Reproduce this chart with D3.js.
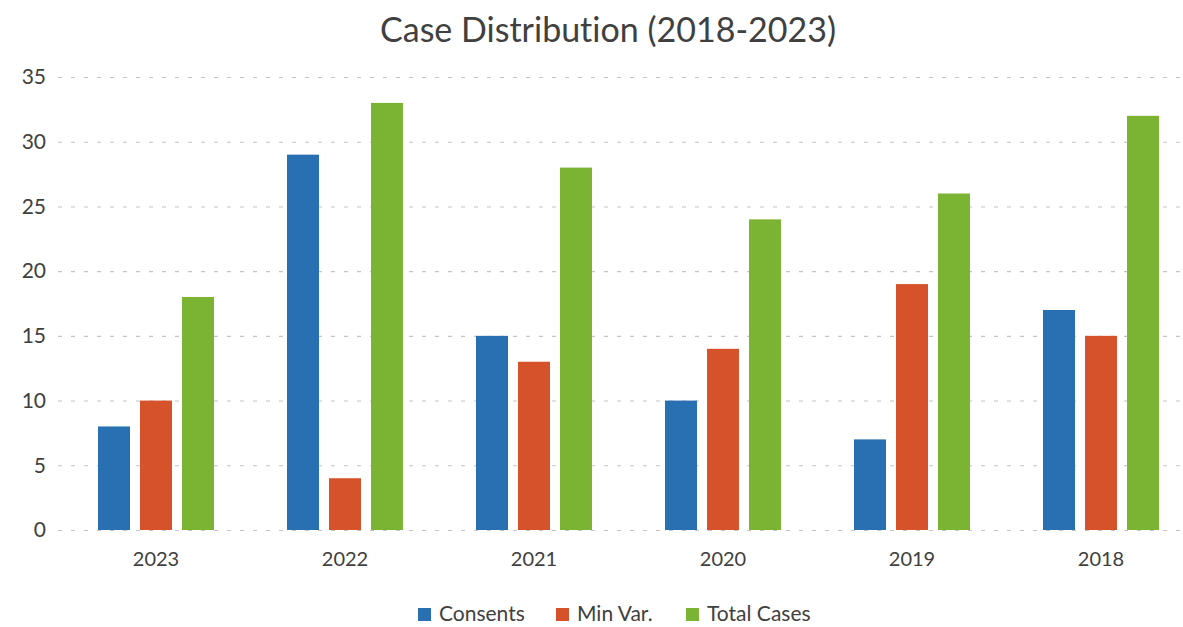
<!DOCTYPE html>
<html>
<head>
<meta charset="utf-8">
<script src="https://cdn.jsdelivr.net/npm/d3@7"></script>
<style>
  html, body { margin: 0; padding: 0; background: #ffffff; }
  svg { display: block; font-family: Lato, "Open Sans", sans-serif; font-variant-ligatures: none; }
</style>
</head>
<body>
<svg id="chart" width="1183" height="627"></svg>
<script>
// Case counts per year
const years = ["2023", "2022", "2021", "2020", "2019", "2018"];
const seriesNames = ["Consents", "Min Var.", "Total Cases"];
const consents = [8, 29, 15, 10, 7, 17];
const minVar = [10, 4, 13, 14, 19, 15];
const totalCases = [18, 33, 28, 24, 26, 32];
const yTicks = [0, 5, 10, 15, 20, 25, 30, 35];
const colors = ["#2870B2", "#D6522B", "#7BB433"];

const seriesValues = [consents, minVar, totalCases];
const rows = years.map((y, i) => ({
  year: y,
  values: seriesNames.map((s, k) => ({ key: s, value: seriesValues[k][i] }))
}));

const svg = d3.select("#chart");

const x0 = d3.scaleBand().domain(years).range([61.5, 1195.5]).padding(0);
const c = x0.bandwidth() / 2;
const x1 = d3.scaleBand().domain(seriesNames)
  .range([c - 58, c + 58]).paddingInner(10 / 42).paddingOuter(0);
const y = d3.scaleLinear().domain([0, 35]).range([530, 77]);
const color = d3.scaleOrdinal().domain(seriesNames).range(colors);

// Title
svg.append("text")
  .attr("x", 608).attr("y", 42)
  .attr("text-anchor", "middle")
  .attr("font-size", 34)
  .attr("fill", "#404040")
  .text("Case Distribution (2018-2023)");

// Horizontal grid lines
const grid = svg.append("g")
  .attr("transform", "translate(58,0)")
  .call(d3.axisLeft(y).tickValues(yTicks).tickSize(-1125).tickFormat(""));
grid.select(".domain").remove();
grid.selectAll(".tick line")
  .attr("stroke", "#c4c4c4")
  .attr("stroke-width", 1.1)
  .attr("stroke-dasharray", "4,9");

// Y axis labels
const yAxis = svg.append("g")
  .attr("transform", "translate(46,0)")
  .call(d3.axisLeft(y).tickValues(yTicks).tickSize(0).tickPadding(0));
yAxis.select(".domain").remove();
yAxis.selectAll("text")
  .attr("font-family", "Lato, 'Open Sans', sans-serif")
  .attr("font-size", 21)
  .attr("fill", "#404040");

// Bars
const groups = svg.append("g").selectAll("g")
  .data(rows).join("g")
  .attr("transform", d => `translate(${x0(d.year)},0)`);

groups.selectAll("rect")
  .data(d => d.values).join("rect")
  .attr("x", d => x1(d.key))
  .attr("width", x1.bandwidth())
  .attr("y", d => y(d.value))
  .attr("height", d => y(0) - y(d.value))
  .attr("fill", d => color(d.key));

// X axis labels
const xAxis = svg.append("g")
  .attr("transform", "translate(0,530)")
  .call(d3.axisBottom(x0).tickSize(0).tickPadding(22));
xAxis.select(".domain").remove();
xAxis.selectAll("text")
  .attr("font-family", "Lato, 'Open Sans', sans-serif")
  .attr("font-size", 20)
  .attr("fill", "#404040");

// Legend
const legendX = [418, 556, 686];
const legend = svg.append("g").selectAll("g")
  .data(seriesNames).join("g")
  .attr("transform", (d, i) => `translate(${legendX[i]},608)`);
legend.append("rect")
  .attr("width", 13).attr("height", 13)
  .attr("fill", d => color(d));
legend.append("text")
  .attr("x", 21).attr("y", 13)
  .attr("font-size", 21)
  .attr("fill", "#404040")
  .text(d => d);
</script>
</body>
</html>
